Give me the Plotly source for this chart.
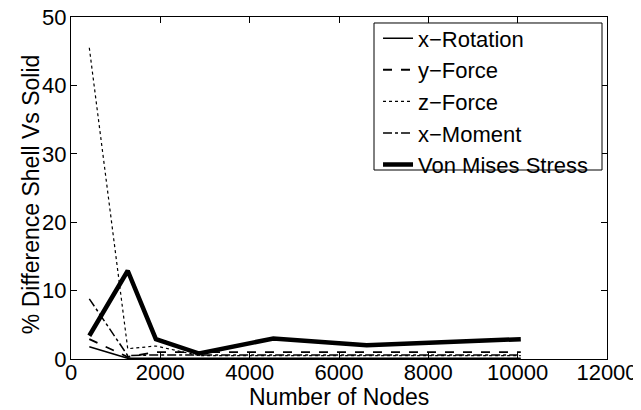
import plotly.graph_objects as go

# number of nodes in each mesh
nodes = [410, 1270, 1900, 2870, 4530, 6620, 10070]

# % difference shell vs solid
x_rotation = [1.8, 0.1, 0.1, 0.1, 0.1, 0.1, 0.1]
y_force = [2.9, 0.3, 1.0, 1.0, 1.0, 1.0, 1.0]
z_force = [45.5, 1.5, 1.9, 0.5, 0.5, 0.5, 0.5]
x_moment = [8.8, 0.5, 0.6, 0.6, 0.6, 0.6, 0.6]
von_mises = [3.4, 12.9, 2.9, 0.8, 3.0, 2.0, 2.9]

series = [
    ("x\u2212Rotation", x_rotation, "solid", 1.5),
    ("y\u2212Force", y_force, "dash", 1.8),
    ("z\u2212Force", z_force, "dot", 1.2),
    ("x\u2212Moment", x_moment, "dashdot", 1.5),
    ("Von Mises Stress", von_mises, "solid", 4.5),
]

fig = go.Figure()
for i, (name, vals, dash, w) in enumerate(series):
    fig.add_trace(go.Scatter(x=nodes, y=vals, mode="lines", name=name, legendgroup=str(i),
                             line=dict(color="black", dash=dash, width=w)))

axis_style = dict(showgrid=False, zeroline=False, showline=True, linecolor="black",
                  linewidth=1, mirror="allticks", ticks="inside", ticklen=6,
                  tickcolor="black", tickfont=dict(size=22, color="black"),
                  ticklabeloverflow="allow")

fig.update_xaxes(range=[0, 12000], dtick=2000, tickformat="d", ticklabelstandoff=-6, **axis_style)
fig.update_yaxes(range=[0, 50], dtick=10, ticklabelstandoff=-1, **axis_style)

# axis titles placed as annotations to match the reference positions
fig.add_annotation(text="Number of Nodes", xref="paper", yref="paper", x=0.5, y=-0.111,
                   xanchor="center", yanchor="middle", showarrow=False, font=dict(size=23))
fig.add_annotation(text="% Difference Shell Vs Solid", xref="paper", yref="paper", x=-0.0746, y=0.482,
                   xanchor="center", yanchor="middle", textangle=-90, showarrow=False,
                   font=dict(size=23))

# legend box (drawn as a shape so it hugs the entries like the original)
fig.add_shape(type="rect", xref="paper", yref="paper", x0=0.5653, x1=0.9907, y0=0.5526, y1=0.9825,
              line=dict(color="black", width=1), fillcolor="white", layer="above")

# page body has an 8px margin, so margins are shifted to keep the plot box in place
fig.update_layout(
    width=641, height=410,
    margin=dict(l=63, r=42, t=9, b=59, autoexpand=False),
    plot_bgcolor="white", paper_bgcolor="white",
    font=dict(family="Liberation Sans, Arial", size=22, color="black"),
    legend=dict(x=0.5728, y=0.999, xanchor="left", yanchor="top",
                borderwidth=0, bgcolor="rgba(0,0,0,0)",
                font=dict(size=22), tracegroupgap=0, itemwidth=30),
)

fig.write_html("out.html")
